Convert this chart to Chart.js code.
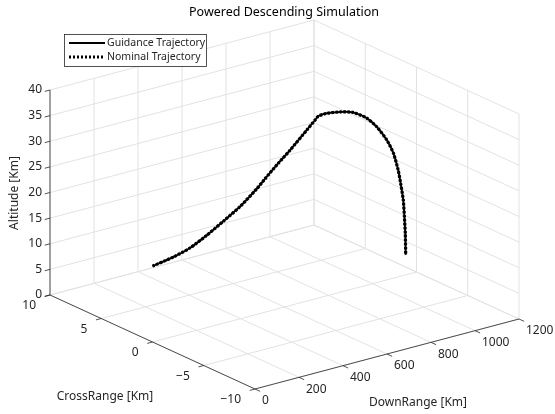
<!DOCTYPE html>
<html>
<head>
<meta charset="utf-8">
<script src="https://cdn.jsdelivr.net/npm/chart.js@4/dist/chart.umd.min.js"></script>
<style>
  body { margin: 0; background: #fff; }
  #c { display: block; }
</style>
</head>
<body>
<canvas id="c" width="555" height="414"></canvas>
<script>
// axis ticks
var downRangeTicks = [0, 200, 400, 600, 800, 1000, 1200];
var crossRangeTicks = [-10, -5, 0, 5, 10];
var altitudeTicks = [0, 5, 10, 15, 20, 25, 30, 35, 40];
var crossRangeLabels = ['10', '5', '0', '\u22125', '\u221210'];

// guidance trajectory [Km]
var guidanceDownRange = [0, 95, 170, 246, 322, 398, 474, 511, 570, 625, 702, 739, 754, 792, 852, 913, 974, 1019, 1065, 1095, 1117, 1128, 1140, 1145, 1149, 1151];
var guidanceCrossRange = [0, 0, 0, 0, 0, 0, 0, 0, 0, 0, 0, 0, 0, 0, 0, 0, 0, 0, 0, 0, 0, 0, 0, 0, 0, 0];
var guidanceAltitude = [14.8, 15.5, 16.4, 18.0, 19.9, 21.9, 24.5, 26.0, 28.3, 30.3, 33.4, 34.9, 35.5, 35.6, 35.2, 34.4, 32.6, 30.4, 27.3, 24.4, 20.8, 18.1, 14.7, 11.4, 8.2, 3.9];

// nominal trajectory [Km]
var nominalDownRange = [0, 95, 170, 246, 322, 398, 474, 511, 570, 625, 702, 739, 754, 792, 852, 913, 974, 1019, 1065, 1095, 1117, 1128, 1140, 1145, 1149, 1151];
var nominalCrossRange = [0, 0, 0, 0, 0, 0, 0, 0, 0, 0, 0, 0, 0, 0, 0, 0, 0, 0, 0, 0, 0, 0, 0, 0, 0, 0];
var nominalAltitude = [14.8, 15.5, 16.4, 18.0, 19.9, 21.9, 24.5, 26.0, 28.3, 30.3, 33.4, 34.9, 35.5, 35.6, 35.2, 34.4, 32.6, 30.4, 27.3, 24.4, 20.8, 18.1, 14.7, 11.4, 8.2, 3.9];

// view box (fixed 3D view, like matlab default az/el)
var drMin = 0, drMax = 1200, crMin = -10, crMax = 10, zMin = 0, zMax = 40;
var view = {
  ox: 255, oy: 389,          // (drMin, crMin, zMin)
  drx: 264, dry: -70,        // full DownRange span
  crx: -205, cry: -94,       // full CrossRange span
  zy: -205                   // full Altitude span
};

function proj(dr, cr, z) {
  var a = (dr - drMin) / (drMax - drMin);
  var b = (cr - crMin) / (crMax - crMin);
  var c = (z - zMin) / (zMax - zMin);
  return {
    x: view.ox + a * view.drx + b * view.crx,
    y: view.oy + a * view.dry + b * view.cry + c * view.zy
  };
}

var gridColor = '#e2e2e2';
var axisColor = '#262626';
var datasets = [];

function seg(p, q, color, width, order) {
  datasets.push({
    data: [p, q],
    showLine: true,
    borderColor: color,
    borderWidth: width,
    pointRadius: 0,
    order: order
  });
}

// grid: floor + two back walls
downRangeTicks.forEach(function (d) {
  seg(proj(d, crMin, zMin), proj(d, crMax, zMin), gridColor, 1, 10);
  seg(proj(d, crMax, zMin), proj(d, crMax, zMax), gridColor, 1, 10);
});
crossRangeTicks.forEach(function (c) {
  seg(proj(drMin, c, zMin), proj(drMax, c, zMin), gridColor, 1, 10);
  seg(proj(drMax, c, zMin), proj(drMax, c, zMax), gridColor, 1, 10);
});
altitudeTicks.forEach(function (z) {
  seg(proj(drMin, crMax, z), proj(drMax, crMax, z), gridColor, 1, 10);
  seg(proj(drMax, crMin, z), proj(drMax, crMax, z), gridColor, 1, 10);
});

// axis lines
seg(proj(drMin, crMin, zMin), proj(drMax, crMin, zMin), axisColor, 0.8, 5);
seg(proj(drMin, crMin, zMin), proj(drMin, crMax, zMin), axisColor, 0.8, 5);
seg(proj(drMin, crMax, zMin), proj(drMin, crMax, zMax), axisColor, 0.8, 5);

// tick marks
downRangeTicks.forEach(function (d) {
  seg(proj(d, crMin, zMin), proj(d, crMin - 0.5, zMin), axisColor, 0.8, 5);
});
crossRangeTicks.forEach(function (c) {
  seg(proj(drMin, c, zMin), proj(drMin - 24, c, zMin), axisColor, 0.8, 5);
});
altitudeTicks.forEach(function (z) {
  seg(proj(drMin, crMax, z), proj(drMin - 24, crMax, z), axisColor, 0.8, 5);
});

// trajectories
datasets.push({
  label: 'Guidance Trajectory',
  data: guidanceDownRange.map(function (d, i) { return proj(d, guidanceCrossRange[i], guidanceAltitude[i]); }),
  showLine: true,
  borderColor: '#000',
  borderWidth: 2,
  tension: 0.2,
  pointRadius: 0,
  order: 1
});
datasets.push({
  label: 'Nominal Trajectory',
  data: nominalDownRange.map(function (d, i) { return proj(d, nominalCrossRange[i], nominalAltitude[i]); }),
  showLine: true,
  borderColor: '#000',
  borderWidth: 3.2,
  borderDash: [2.5, 1.5],
  tension: 0.2,
  pointRadius: 0,
  order: 0
});

var FONT = '"Noto Sans", "DejaVu Sans", sans-serif';

var textPlugin = {
  id: 'text3d',
  afterDraw: function (chart) {
    var ctx = chart.ctx;
    var sx = chart.scales.x, sy = chart.scales.y;
    function px(p) { return { x: sx.getPixelForValue(p.x), y: sy.getPixelForValue(p.y) }; }
    ctx.save();
    ctx.fillStyle = axisColor;
    ctx.font = '12px ' + FONT;
    ctx.textBaseline = 'middle';

    // altitude ticks
    ctx.textAlign = 'right';
    altitudeTicks.forEach(function (z) {
      var p = px(proj(drMin, crMax, z));
      ctx.fillText(String(z), p.x - 8, p.y);
    });
    // crossrange ticks
    crossRangeTicks.slice().reverse().forEach(function (c, i) {
      var p = px(proj(drMin, c, zMin));
      ctx.fillText(crossRangeLabels[i], p.x - 14, p.y + 11);
    });
    // downrange ticks
    ctx.textAlign = 'left';
    downRangeTicks.forEach(function (d) {
      var p = px(proj(d, crMin, zMin));
      ctx.fillText(String(d), p.x + 7, p.y + 12);
    });

    // axis titles
    ctx.font = '12px ' + FONT;
    ctx.textAlign = 'center';
    ctx.fillText('CrossRange [Km]', 105, 397);
    ctx.fillText('DownRange [Km]', 418, 403);
    ctx.save();
    ctx.translate(15, 193);
    ctx.rotate(-Math.PI / 2);
    ctx.fillText('Altitude [Km]', 0, 0);
    ctx.restore();

    // title
    ctx.fillStyle = '#000';
    ctx.font = '12.5px ' + FONT;
    ctx.fillText('Powered Descending Simulation', 284, 12);

    // legend
    ctx.fillStyle = '#fff';
    ctx.fillRect(64, 34, 142, 32);
    ctx.strokeStyle = axisColor;
    ctx.lineWidth = 0.8;
    ctx.strokeRect(64.5, 34.5, 142, 32);
    ctx.strokeStyle = '#000';
    ctx.lineWidth = 2;
    ctx.beginPath(); ctx.moveTo(69, 43); ctx.lineTo(105, 43); ctx.stroke();
    ctx.lineWidth = 3;
    ctx.setLineDash([2, 2]);
    ctx.beginPath(); ctx.moveTo(69, 57); ctx.lineTo(105, 57); ctx.stroke();
    ctx.setLineDash([]);
    ctx.fillStyle = axisColor;
    ctx.font = '10.5px ' + FONT;
    ctx.textAlign = 'left';
    ctx.fillText(chart.data.datasets[datasets.length - 2].label, 107, 43);
    ctx.fillText(chart.data.datasets[datasets.length - 1].label, 107, 57);
    ctx.restore();
  }
};

new Chart(document.getElementById('c'), {
  type: 'scatter',
  data: { datasets: datasets },
  options: {
    responsive: false,
    animation: false,
    devicePixelRatio: 1,
    events: [],
    layout: { padding: 0 },
    scales: {
      x: { type: 'linear', display: false, min: 0, max: 555 },
      y: { type: 'linear', display: false, min: 0, max: 414, reverse: true }
    },
    plugins: {
      legend: { display: false },
      title: { display: false },
      tooltip: { enabled: false }
    }
  },
  plugins: [textPlugin]
});
</script>
</body>
</html>
